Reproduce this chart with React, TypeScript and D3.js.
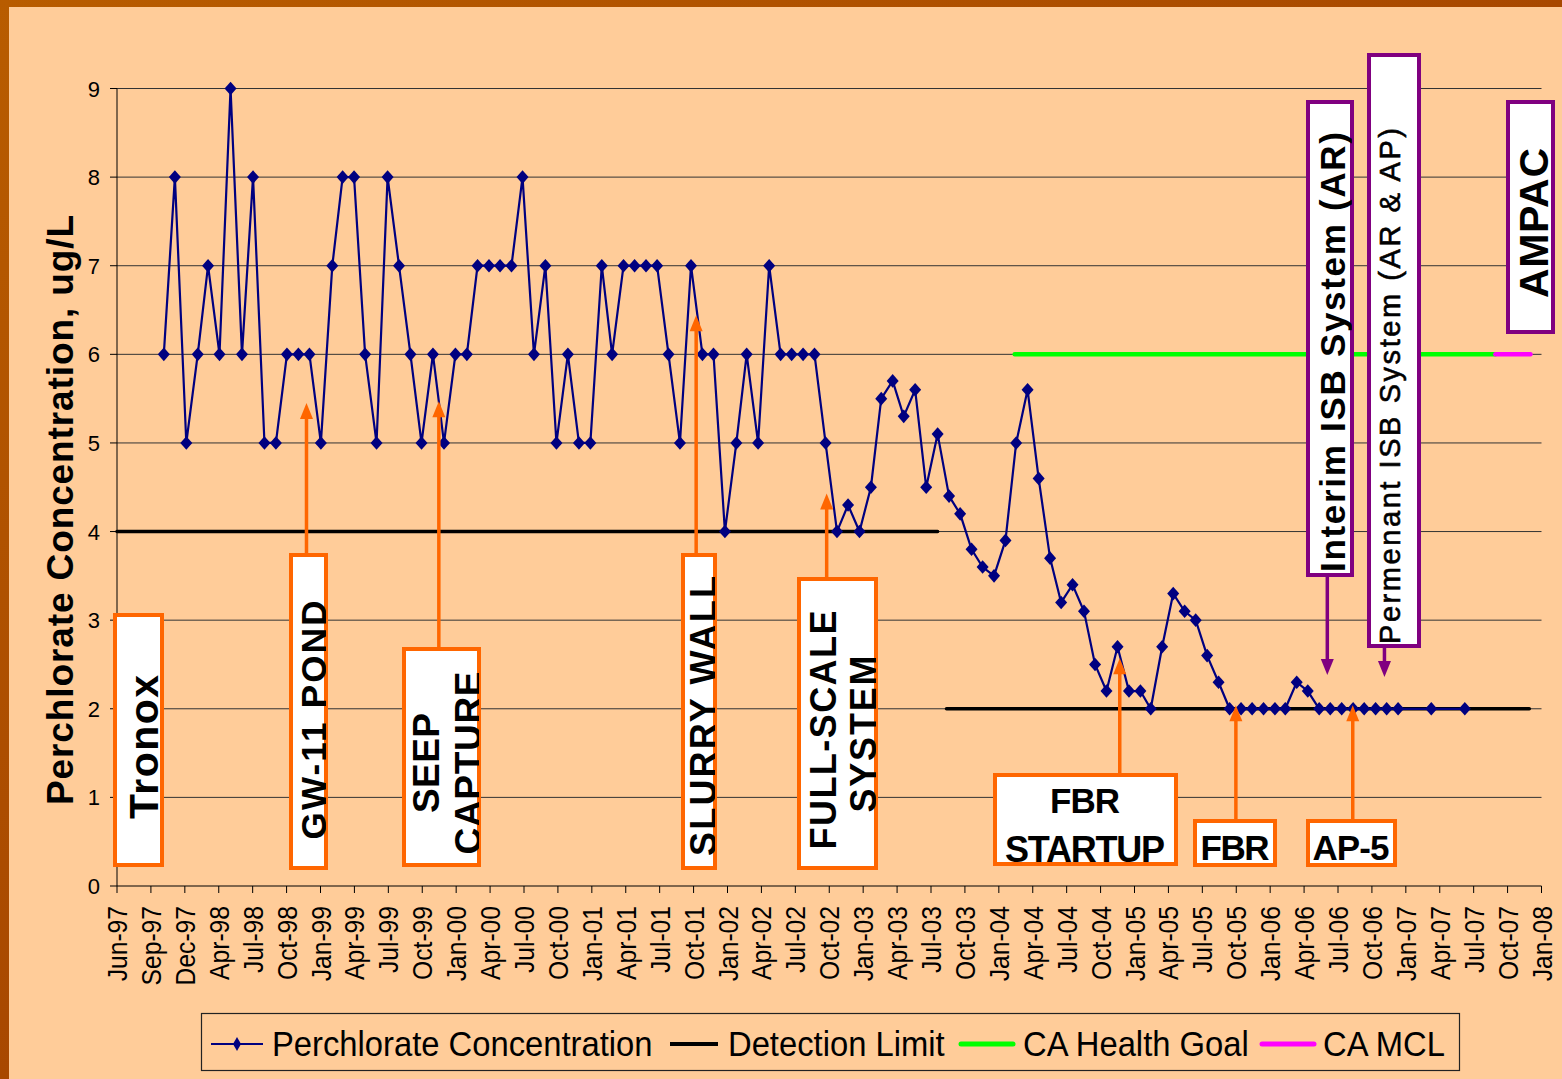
import React from 'react';
import * as d3 from 'd3';

// x axis tick labels (Excel date axis, one tick every 92 days from 30 Jun 1997)
const tickLabels = [
  'Jun-97', 'Sep-97', 'Dec-97', 'Apr-98', 'Jul-98', 'Oct-98',
  'Jan-99', 'Apr-99', 'Jul-99', 'Oct-99', 'Jan-00', 'Apr-00', 'Jul-00', 'Oct-00',
  'Jan-01', 'Apr-01', 'Jul-01', 'Oct-01', 'Jan-02', 'Apr-02', 'Jul-02', 'Oct-02',
  'Jan-03', 'Apr-03', 'Jul-03', 'Oct-03', 'Jan-04', 'Apr-04', 'Jul-04', 'Oct-04',
  'Jan-05', 'Apr-05', 'Jul-05', 'Oct-05', 'Jan-06', 'Apr-06', 'Jul-06', 'Oct-06',
  'Jan-07', 'Apr-07', 'Jul-07', 'Oct-07', 'Jan-08'
];
const tickStartDay = '1997-06-30';
const tickStepDays = 92;
const yTicks = [0, 1, 2, 3, 4, 5, 6, 7, 8, 9];

// sampling months
const sampleMonths = [
  '1997-11', '1997-12',
  '1998-01', '1998-02', '1998-03', '1998-04', '1998-05', '1998-06', '1998-07', '1998-08', '1998-09', '1998-10', '1998-11', '1998-12',
  '1999-01', '1999-02', '1999-03', '1999-04', '1999-05', '1999-06', '1999-07', '1999-08', '1999-09', '1999-10', '1999-11', '1999-12',
  '2000-01', '2000-02', '2000-03', '2000-04', '2000-05', '2000-06', '2000-07', '2000-08', '2000-09', '2000-10', '2000-11', '2000-12',
  '2001-01', '2001-02', '2001-03', '2001-04', '2001-05', '2001-06', '2001-07', '2001-08', '2001-09', '2001-10', '2001-11', '2001-12',
  '2002-01', '2002-02', '2002-03', '2002-04', '2002-05', '2002-06', '2002-07', '2002-08', '2002-09', '2002-10', '2002-11', '2002-12',
  '2003-01', '2003-02', '2003-03', '2003-04', '2003-05', '2003-06', '2003-07', '2003-08', '2003-09', '2003-10', '2003-11', '2003-12',
  '2004-01', '2004-02', '2004-03', '2004-04', '2004-05', '2004-06', '2004-07', '2004-08', '2004-09', '2004-10', '2004-11', '2004-12',
  '2005-01', '2005-02', '2005-03', '2005-04', '2005-05', '2005-06', '2005-07', '2005-08', '2005-09', '2005-10', '2005-11', '2005-12',
  '2006-01', '2006-02', '2006-03', '2006-04', '2006-05', '2006-06', '2006-07', '2006-08', '2006-09', '2006-10', '2006-11', '2006-12',
  '2007-01', '2007-04', '2007-07'
];

// perchlorate concentration, ug/L
const perchlorate = [
  6, 8,
  5, 6, 7, 6, 9, 6, 8, 5, 5, 6, 6, 6,
  5, 7, 8, 8, 6, 5, 8, 7, 6, 5, 6, 5,
  6, 6, 7, 7, 7, 7, 8, 6, 7, 5, 6, 5,
  5, 7, 6, 7, 7, 7, 7, 6, 5, 7, 6, 6,
  4, 5, 6, 5, 7, 6, 6, 6, 6, 5, 4, 4.3,
  4, 4.5, 5.5, 5.7, 5.3, 5.6, 4.5, 5.1, 4.4, 4.2, 3.8, 3.6,
  3.5, 3.9, 5.0, 5.6, 4.6, 3.7, 3.2, 3.4, 3.1, 2.5, 2.2, 2.7,
  2.2, 2.2, 2.0, 2.7, 3.3, 3.1, 3.0, 2.6, 2.3, 2.0, 2.0, 2.0,
  2.0, 2.0, 2.0, 2.3, 2.2, 2.0, 2.0, 2.0, 2.0, 2.0, 2.0, 2.0,
  2.0, 2.0, 2.0
];

// reference lines
const detectionFrom = ['1997-06-30', '2003-08-28'];
const detectionTo = ['2003-08-04', '2007-12-26'];
const detectionLevel = [4, 2];
const healthGoalSpan = ['2004-02-29', '2007-09-25'];
const healthGoalLevel = 6;
const mclSpan = ['2007-09-25', '2007-12-29'];
const mclLevel = 6;

const legendLabels = ['Perchlorate Concentration', 'Detection Limit', 'CA Health Goal', 'CA MCL'];

const ORANGE = '#FF6600';
const PURPLE = '#800080';
const NAVY = '#000080';
const FONT = "'Liberation Sans', Arial, Helvetica, sans-serif";

// callout boxes: event date / value for the arrow, box in page pixels
const callouts = [
  { color: ORANGE, box: [113, 613, 164, 867], vertical: true,
    lines: [{ t: 'Tronox', b: 158, c: 747, size: 41, len: 144 }] },
  { color: ORANGE, event: '1998-11-26', tip: 5.45, box: [289, 553, 328, 870], vertical: true,
    lines: [{ t: 'GW-11 POND', b: 326, c: 720, size: 35, len: 239 }] },
  { color: ORANGE, event: '1999-11-20', tip: 5.47, box: [402, 647, 481, 867], vertical: true,
    lines: [{ t: 'SEEP', b: 439, c: 763, size: 37, len: 100 }, { t: 'CAPTURE', b: 481, c: 763, size: 37, len: 183 }] },
  { color: ORANGE, event: '2001-10-18', tip: 6.44, box: [681, 553, 717, 870], vertical: true,
    lines: [{ t: 'SLURRY WALL', b: 716, c: 716, size: 36, len: 280 }] },
  { color: ORANGE, event: '2002-10-07', tip: 4.43, box: [797, 577, 878, 870], vertical: true,
    lines: [{ t: 'FULL-SCALE', b: 836, c: 730, size: 36, len: 239 }, { t: 'SYSTEM', b: 876, c: 734, size: 36, len: 157 }] },
  { color: ORANGE, event: '2004-12-10', tip: 2.57, box: [993, 773, 1178, 866], vertical: false,
    lines: [{ t: 'FBR', b: 813, c: 1085, size: 35, len: 70 }, { t: 'STARTUP', b: 862, c: 1085, size: 36, len: 160 }] },
  { color: ORANGE, event: '2005-10-21', tip: 2.04, box: [1193, 819, 1277, 867], vertical: false,
    lines: [{ t: 'FBR', b: 860, c: 1235, size: 35, len: 69 }] },
  { color: ORANGE, event: '2006-09-03', tip: 2.04, box: [1306, 819, 1397, 867], vertical: false,
    lines: [{ t: 'AP-5', b: 860, c: 1351, size: 35, len: 77 }] },
  { color: PURPLE, event: '2006-06-26', tip: 2.38, box: [1306, 100, 1354, 577], vertical: true,
    lines: [{ t: 'Interim ISB System (AR)', b: 1345, c: 352, size: 35, len: 440 }] },
  { color: PURPLE, event: '2006-11-28', tip: 2.36, box: [1367, 53, 1421, 648], vertical: true,
    lines: [{ t: 'Permenant ISB System (AR & AP)', b: 1400, c: 386, size: 29, len: 516, weight: 'normal' }] },
  { color: PURPLE, box: [1506, 100, 1555, 334], vertical: true,
    lines: [{ t: 'AMPAC', b: 1548, c: 223, size: 41, len: 150 }] }
];

const W = 1562;
const H = 1079;
const margin = { left: 117, right: 1541.5, top: 88.5, bottom: 886 };

const diamond = (hw, hh) => `M0,${-hh}L${hw},0L0,${hh}L${-hw},0Z`;

export default function App() {
  const parseDay = d3.timeParse('%Y-%m-%d');
  const parseMonth = d3.timeParse('%Y-%m');

  const tickStart = parseDay(tickStartDay);
  const tickDates = tickLabels.map((_, i) => d3.timeDay.offset(tickStart, tickStepDays * i));

  const x = d3.scaleTime()
    .domain([tickDates[0], tickDates[tickDates.length - 1]])
    .range([margin.left, margin.right]);
  const y = d3.scaleLinear().domain([0, 9]).range([margin.bottom, margin.top]);

  // samples were taken early in each month
  const samples = sampleMonths.map((m, i) => ({
    date: d3.timeDay.offset(parseMonth(m), 3),
    value: perchlorate[i]
  }));

  const line = d3.line().x(d => x(d.date)).y(d => y(d.value));

  const segments = [
    ...detectionFrom.map((f, i) => ({ from: f, to: detectionTo[i], v: detectionLevel[i], color: '#000', w: 3.5 })),
    { from: healthGoalSpan[0], to: healthGoalSpan[1], v: healthGoalLevel, color: '#00FF00', w: 4.5 },
    { from: mclSpan[0], to: mclSpan[1], v: mclLevel, color: '#FF00FF', w: 4.5 }
  ];

  return (
    <svg width={W} height={H} style={{ position: 'absolute', left: 0, top: 0 }} fontFamily={FONT}>
      <defs>
        <linearGradient id="frame" x1="0" y1="0" x2="1" y2="1">
          <stop offset="0" stopColor="#B85C00" />
          <stop offset="0.5" stopColor="#A84800" />
          <stop offset="1" stopColor="#B45400" />
        </linearGradient>
        {callouts.map((c, i) => (
          <clipPath id={'clip' + i} key={i}>
            <rect x={c.box[0] + 2} y={c.box[1] + 2} width={c.box[2] - c.box[0] - 4} height={c.box[3] - c.box[1] - 4} />
          </clipPath>
        ))}
      </defs>

      <rect x={0} y={0} width={W} height={H} fill="url(#frame)" />
      <rect x={9} y={7} width={W - 9} height={H - 7} fill="#FFCC99" />

      {/* gridlines */}
      {yTicks.filter(t => t > 0).map(t => (
        <line key={t} x1={margin.left} x2={margin.right} y1={y(t)} y2={y(t)} stroke="#333" strokeWidth={1} />
      ))}

      {/* reference levels */}
      {segments.map((s, i) => (
        <line key={i} x1={x(parseDay(s.from))} x2={x(parseDay(s.to))} y1={y(s.v)} y2={y(s.v)}
          stroke={s.color} strokeWidth={s.w} strokeLinecap="round" />
      ))}

      {/* concentration series */}
      <path d={line(samples)} fill="none" stroke={NAVY} strokeWidth={2.2} />
      {samples.map((d, i) => (
        <path key={i} d={diamond(6, 6.8)} transform={`translate(${x(d.date)},${y(d.value)})`} fill={NAVY} />
      ))}

      {/* axes */}
      <line x1={margin.left} x2={margin.left} y1={margin.top} y2={margin.bottom} stroke="#000" strokeWidth={1} />
      <line x1={margin.left} x2={margin.right} y1={margin.bottom} y2={margin.bottom} stroke="#000" strokeWidth={1} />
      {yTicks.map(t => (
        <g key={t}>
          <line x1={margin.left - 7} x2={margin.left} y1={y(t)} y2={y(t)} stroke="#000" />
          <text x={margin.left - 17} y={y(t) + 8} textAnchor="end" fontSize={22}>{t}</text>
        </g>
      ))}
      {tickDates.map((d, i) => (
        <g key={i}>
          <line x1={x(d)} x2={x(d)} y1={margin.bottom} y2={margin.bottom + 7} stroke="#000" />
          <text transform={`translate(${x(d) + 10},${margin.bottom + 20}) rotate(-90) scale(0.88,1)`}
            textAnchor="end" fontSize={28}>{tickLabels[i]}</text>
        </g>
      ))}
      <text transform={`translate(73,510) rotate(-90)`} textAnchor="middle" fontSize={37} fontWeight="bold"
        textLength={590} lengthAdjust="spacing">Perchlorate Concentration, ug/L</text>

      {/* callouts */}
      {callouts.map((c, i) => {
        const [x0, y0, x1, y1] = c.box;
        const hasArrow = c.event !== undefined;
        const ax = hasArrow ? x(parseDay(c.event)) : 0;
        const tipY = hasArrow ? y(c.tip) : 0;
        const up = c.color === ORANGE;
        const head = 16;
        return (
          <g key={i}>
            {hasArrow && (
              <g>
                <line x1={ax} x2={ax} y1={up ? y0 : y1} y2={up ? tipY + head - 2 : tipY - head + 2}
                  stroke={c.color} strokeWidth={3.5} />
                <path d={up
                  ? `M${ax},${tipY}L${ax + 6.5},${tipY + head}L${ax - 6.5},${tipY + head}Z`
                  : `M${ax},${tipY}L${ax + 6.5},${tipY - head}L${ax - 6.5},${tipY - head}Z`}
                  fill={c.color} />
              </g>
            )}
            <rect x={x0 + 2} y={y0 + 2} width={x1 - x0 - 4} height={y1 - y0 - 4} fill="#fff" stroke={c.color} strokeWidth={4} />
            <g clipPath={`url(#clip${i})`}>
              {c.lines.map((l, j) => (
                <text key={j}
                  transform={c.vertical ? `translate(${l.b},${l.c}) rotate(-90)` : `translate(${l.c},${l.b})`}
                  textAnchor="middle" fontSize={l.size} fontWeight={l.weight || 'bold'}
                  stroke={l.weight ? '#000' : 'none'} strokeWidth={l.weight ? 0.6 : 0}
                  textLength={l.len} lengthAdjust="spacing">{l.t}</text>
              ))}
            </g>
          </g>
        );
      })}

      {/* legend */}
      <rect x={201.5} y={1013.5} width={1258} height={57} fill="none" stroke="#222" strokeWidth={1.2} />
      <g>
        <line x1={211} x2={263} y1={1044} y2={1044} stroke={NAVY} strokeWidth={2} />
        <path d={diamond(4, 7)} transform="translate(237,1044)" fill={NAVY} />
        <line x1={670} x2={718} y1={1044} y2={1044} stroke="#000" strokeWidth={4} />
        <line x1={961} x2={1013} y1={1044} y2={1044} stroke="#00FF00" strokeWidth={5} strokeLinecap="round" />
        <line x1={1262} x2={1314} y1={1044} y2={1044} stroke="#FF00FF" strokeWidth={5} strokeLinecap="round" />
        {legendLabels.map((lab, i) => (
          <text key={i} transform={`translate(${[272, 728, 1023, 1323][i]},1056) scale(0.91,1)`} fontSize={36}>{lab}</text>
        ))}
      </g>
    </svg>
  );
}
